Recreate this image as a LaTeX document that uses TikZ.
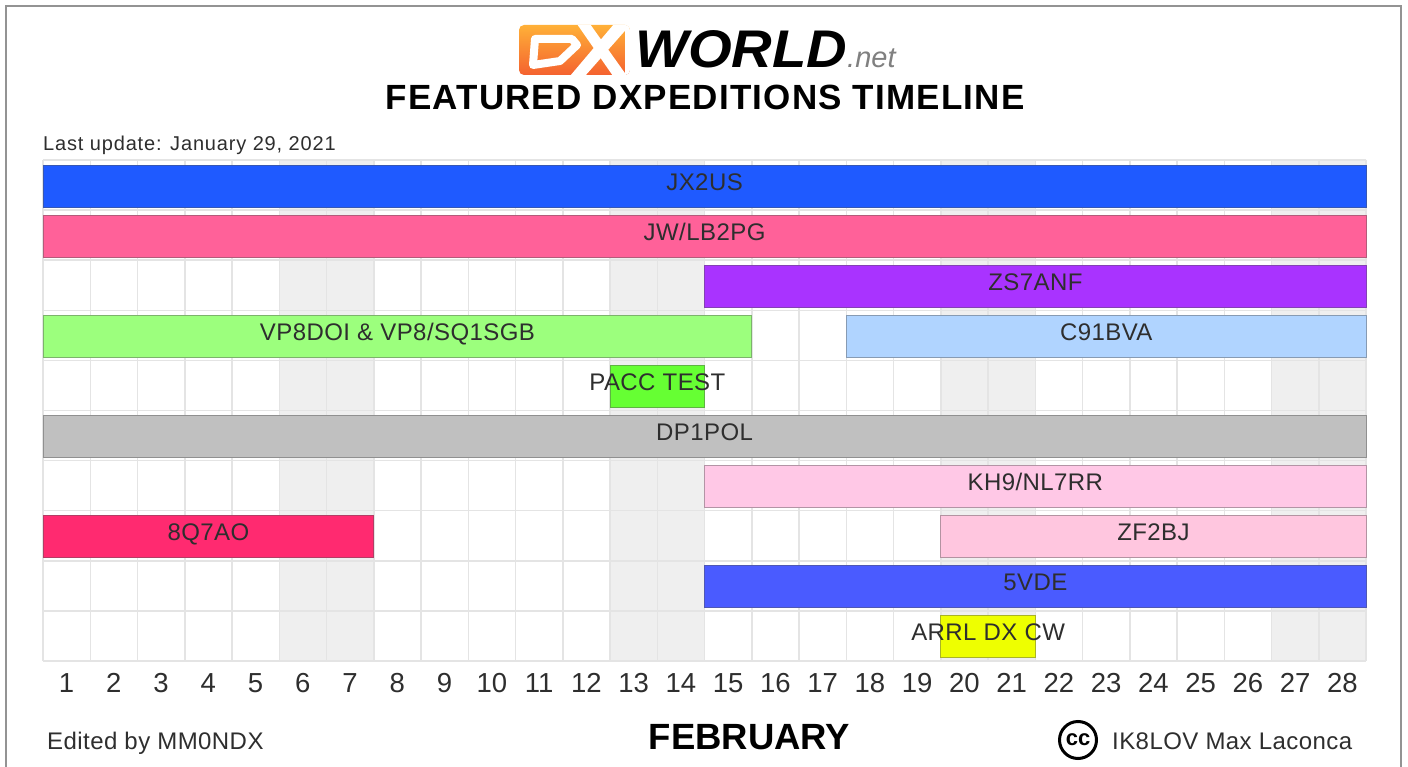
\documentclass[tikz,border=0pt]{standalone}
\usepackage{fontspec}
\setmainfont{Liberation Sans}
\newfontfamily\spaced[LetterSpace=1.8]{Liberation Sans}
\newfontfamily\spacedsmall[LetterSpace=4.2]{Liberation Sans}
\newfontfamily\spacedbold[LetterSpace=3.4]{Liberation Sans Bold}
\definecolor{ink}{HTML}{2E2E2E}
\definecolor{gridc}{HTML}{E4E4E4}
\definecolor{wkend}{HTML}{EFEFEF}
\definecolor{logotop}{HTML}{FFB238}
\definecolor{logobot}{HTML}{F4602F}
\tikzset{
  bar/.style={rectangle,inner sep=0pt,anchor=north west,draw=#1!65!gray!85!black,fill=#1,line width=1pt,minimum height=42pt},
  barlabel/.style={text=ink,font=\fontsize{24}{26}\spaced\selectfont,inner sep=0pt,anchor=base},
  daylabel/.style={text=ink,font=\fontsize{27.5}{29}\selectfont,inner sep=0pt}
}
\newcommand{\dxbar}[6]{% name, colour, first col, n cols, row, label
  \pgfmathsetmacro{\bx}{42.6+47.25*#3}
  \pgfmathsetmacro{\bw}{47.25*#4}
  \pgfmathsetmacro{\by}{165+50.05*#5}
  \node[bar=#2,minimum width=\bw pt] (#1) at (\bx,\by) {};
  \node[barlabel] (#1t) at ([yshift=-4pt]#1.center) {#6};
}
\definecolor{cA}{HTML}{1F5AFF}
\definecolor{cB}{HTML}{FF6199}
\definecolor{cC}{HTML}{A933FF}
\definecolor{cD}{HTML}{9CFF7D}
\definecolor{cE}{HTML}{B0D4FF}
\definecolor{cF}{HTML}{66FF33}
\definecolor{cG}{HTML}{C0C0C0}
\definecolor{cH}{HTML}{FFC8E6}
\definecolor{cI}{HTML}{FFC6DF}
\definecolor{cJ}{HTML}{FF2A70}
\definecolor{cK}{HTML}{4A5BFF}
\definecolor{cL}{HTML}{EEFF00}
\begin{document}
\begin{tikzpicture}[x=1pt,y=-1pt]
\useasboundingbox (0,0) rectangle (1408,767);
\fill[white] (0,0) rectangle (1408,767);
% frame
\draw[gray!85,line width=2pt] (6,767) -- (6,6) -- (1401,6) -- (1401,767);
% weekend shading
\foreach \c in {5,12,19,26}
  \fill[wkend] ({43+47.25*\c},160) rectangle ({43+47.25*(\c+2)},661);
% grid
\foreach \c in {0,...,28}
  \draw[gridc,line width=1.5pt] ({43+47.25*\c},160) -- ({43+47.25*\c},661);
\foreach \r in {0,...,10}
  \draw[gridc,line width=1.5pt] (43,{160+50.1*\r}) -- (1366,{160+50.1*\r});
% bars
\dxbar{jx}{cA}{0}{28}{0}{JX2US}
\dxbar{jw}{cB}{0}{28}{1}{JW/LB2PG}
\dxbar{zs}{cC}{14}{14}{2}{ZS7ANF}
\dxbar{vp}{cD}{0}{15}{3}{VP8DOI \& VP8/SQ1SGB}
\dxbar{c9}{cE}{17}{11}{3}{C91BVA}
\dxbar{pa}{cF}{12}{2}{4}{PACC TEST}
\dxbar{dp}{cG}{0}{28}{5}{DP1POL}
\dxbar{kh}{cH}{14}{14}{6}{KH9/NL7RR}
\dxbar{q7}{cJ}{0}{7}{7}{8Q7AO}
\dxbar{zf}{cI}{19}{9}{7}{ZF2BJ}
\dxbar{vd}{cK}{14}{14}{8}{5VDE}
\dxbar{ar}{cL}{19}{2}{9}{ARRL DX CW}
% day numbers
\foreach \d in {1,...,28}
  \node[daylabel] (d\d) at ({43+47.25*(\d-0.5)},683) {\d};
% logo
\begin{scope}
\clip[rounded corners=5pt] (519,25) -- (630,25) -- (630,75) -- (519,75) -- cycle;
\shade[top color=logotop,bottom color=logobot] (515,24) rectangle (630,76);
\draw[white,line width=8pt,line join=round] (535,39) -- (572,39) -- (577,45) -- (560,61) -- (533,65) -- cycle;
\fill[white] (577,24) -- (590,24) -- (627,76) -- (613,76) -- cycle;
\fill[white] (614,24) -- (631,24) -- (585,76) -- (570,76) -- cycle;
\fill[white] (625,20) rectangle (632,80);
\end{scope}
\node[inner sep=0pt,anchor=base west,font=\fontsize{53}{55}\bfseries\itshape\selectfont,text=black] (world) at (635,68) {\scalebox{1.06}[1]{WORLD}};
\node[inner sep=0pt,anchor=base west,font=\fontsize{29}{31}\itshape\selectfont,text=gray] (net) at (847,68) {.net};
% title
\node[inner sep=0pt,anchor=base,font=\fontsize{35}{37}\spacedbold\selectfont,text=black] (title) at (705,110) {FEATURED DXPEDITIONS TIMELINE};
\node[inner sep=0pt,anchor=base west,font=\fontsize{20}{22}\spacedsmall\selectfont,text=ink] (upd) at (43,151) {Last update: January 29, 2021};
% footer
\node[inner sep=0pt,anchor=base west,font=\fontsize{24}{26}\spaced\selectfont,text=ink] (ed) at (47,749) {Edited by MM0NDX};
\node[inner sep=0pt,anchor=base,font=\fontsize{36.5}{38}\bfseries\selectfont,text=black] (feb) at (749.5,749) {FEBRUARY};
\node[circle,draw=black,line width=3pt,minimum size=37pt,inner sep=0pt,font=\fontsize{22}{22}\bfseries\selectfont,text=black] (cc) at (1078,740) {\raisebox{1pt}{cc}};
\node[inner sep=0pt,anchor=base west,font=\fontsize{24}{26}\spaced\selectfont,text=ink] (ik) at (1112,749) {IK8LOV Max Laconca};
\end{tikzpicture}
\end{document}
